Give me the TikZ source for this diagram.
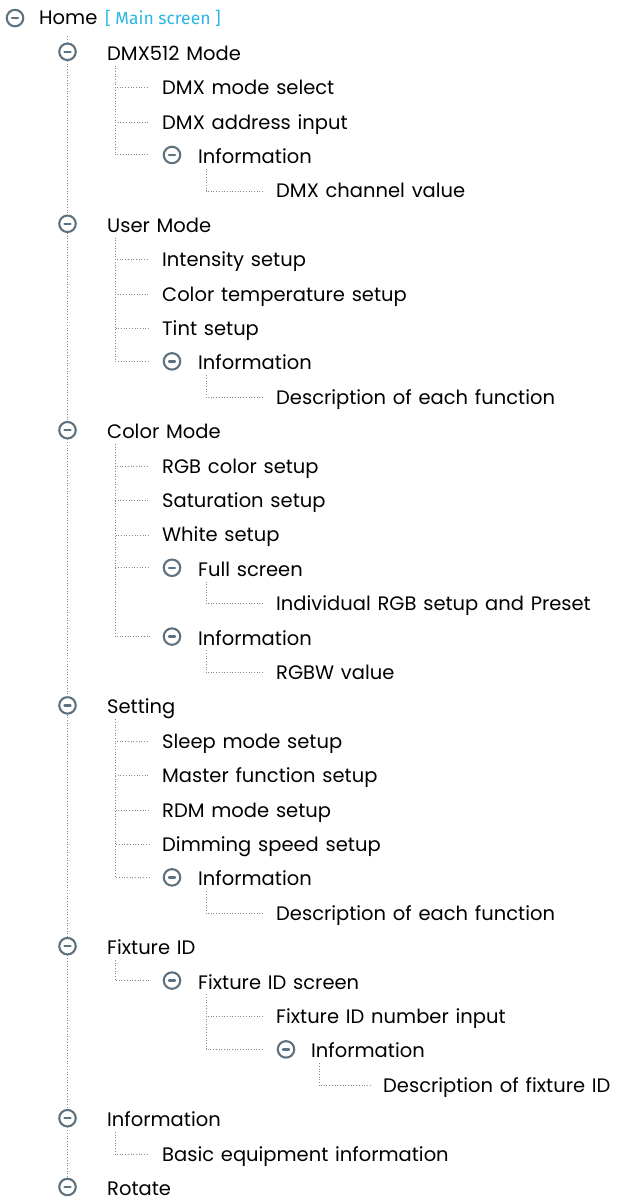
\documentclass[tikz,border=0pt]{standalone}
\usepackage{fontspec}
\setmainfont{Poppins}[WordSpace=1.3]
\newfontfamily\notefont{Fira Sans}
\definecolor{slate}{HTML}{5D717E}
\definecolor{dotgray}{HTML}{7D8C96}
\definecolor{skyblue}{HTML}{2BB5E6}
\tikzset{
  icon/.style = {circle, draw=slate, line width=2.1pt, minimum size=16.5pt, inner sep=0pt,
    path picture={\draw[slate, line width=2.4pt, line cap=round]
      ([xshift=-3pt]path picture bounding box.center) -- ([xshift=3pt]path picture bounding box.center);}},
  item/.style = {anchor=west, inner sep=0pt, text height=13.8pt, text depth=0pt,
    font=\fontsize{19.5}{22}\selectfont},
  note/.style = {item, text=skyblue, font=\notefont\fontsize{17.5}{20}\selectfont},
  tree/.style = {dotgray, line width=1pt, dash pattern=on 1pt off 1.7pt},
}
\begin{document}
\begin{tikzpicture}[x=1pt, y=-34.4pt]
\useasboundingbox (0,-0.5552) rectangle (622,34.329);
% home
\node[icon] (home) at (15,-0.03) {};
\node[item] (thome) at (39,-0.03) {Home};
\node[note] (mainscr) at (105,-0.03) {[ Main screen ]};
% first level
\foreach \n/\t/\r in {dmx/DMX512 Mode/1, user/User Mode/6, color/Color Mode/12, set/Setting/20,
    fix/Fixture ID/27, info/Information/32, rot/Rotate/34}{
  \node[icon] (\n) at (67.5,\r-0.05) {};
  \node[item] (t\n) at (107,\r) {\t};
}
\coordinate (trunk) at (67.5,0.5);
\draw[tree] (trunk) -- (dmx);
\foreach \a/\b in {dmx/user, user/color, color/set, set/fix, fix/info, info/rot}
  \draw[tree] (\a) -- (\b);
% second level
\foreach \n/\t/\r in {dmxa/DMX mode select/2, dmxb/DMX address input/3, usera/Intensity setup/7,
    userb/Color temperature setup/8, userc/Tint setup/9, colora/RGB color setup/13,
    colorb/Saturation setup/14, colorc/White setup/15, seta/Sleep mode setup/21,
    setb/Master function setup/22, setc/RDM mode setup/23, setd/Dimming speed setup/24,
    infoa/Basic equipment information/33}
  \node[item] (\n) at (162,\r) {\t};
\foreach \n/\t/\r in {dmxi/Information/4, useri/Information/10, colorf/Full screen/16,
    colori/Information/18, seti/Information/25, fixs/Fixture ID screen/28}{
  \node[icon] (\n) at (172,\r-0.05) {};
  \node[item] (t\n) at (198,\r) {\t};
}
% third level
\foreach \n/\t/\r in {dmxiv/DMX channel value/5, useriv/Description of each function/11,
    colorfv/Individual RGB setup and Preset/17, coloriv/RGBW value/19,
    setiv/Description of each function/26, fixsn/Fixture ID number input/29}
  \node[item] (\n) at (276,\r) {\t};
\node[icon] (fixsi) at (286,29.95) {};
\node[item] (tfixsi) at (311,30) {Information};
\node[item] (fixsiv) at (383,31) {Description of fixture ID};
% branches
\foreach \p/\c in {tdmx/dmxa, tdmx/dmxb, tdmx/dmxi, tdmxi/dmxiv,
    tuser/usera, tuser/userb, tuser/userc, tuser/useri, tuseri/useriv,
    tcolor/colora, tcolor/colorb, tcolor/colorc, tcolor/colorf, tcolor/colori,
    tcolorf/colorfv, tcolori/coloriv,
    tset/seta, tset/setb, tset/setc, tset/setd, tset/seti, tseti/setiv,
    tfix/fixs, tfixs/fixsn, tfixs/fixsi, tfixsi/fixsiv, tinfo/infoa}
  \draw[tree] ([xshift=8pt,yshift=-5pt]\p.south west) |- ([xshift=-13pt]\c.west);
\end{tikzpicture}
\end{document}
